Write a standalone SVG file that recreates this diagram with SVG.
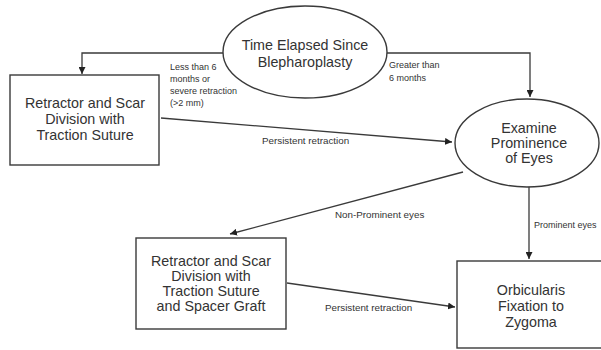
<svg xmlns="http://www.w3.org/2000/svg" width="601" height="350" viewBox="0 0 601 350">
<style>
.shape{fill:#fff;stroke:#3a3a3a;stroke-width:1.4}
.conn{fill:none;stroke:#3a3a3a;stroke-width:1.3}
.t{font-family:"Liberation Sans",Arial,sans-serif;font-size:14.3px;fill:#333;text-anchor:middle}
.s{font-family:"Liberation Sans",Arial,sans-serif;font-size:9px;fill:#333}
.m{font-family:"Liberation Sans",Arial,sans-serif;font-size:9.8px;fill:#333}
</style>
<defs>
<marker id="ah" viewBox="0 0 10 10" refX="10" refY="5" markerWidth="7" markerHeight="7" markerUnits="userSpaceOnUse" orient="auto">
<path d="M0,0 L10,5 L0,10 z" fill="#222"/>
</marker>
</defs>
<rect width="601" height="350" fill="#fff"/>
<g id="connectors">
<path class="conn" d="M223,53 H82 V74" marker-end="url(#ah)"/>
<path class="conn" d="M387,53 H530 V97" marker-end="url(#ah)"/>
<path class="conn" d="M161,118 L452,142" marker-end="url(#ah)"/>
<path class="conn" d="M463,172 L230,234" marker-end="url(#ah)"/>
<path class="conn" d="M529,187 V259" marker-end="url(#ah)"/>
<path class="conn" d="M287,283 L455,307" marker-end="url(#ah)"/>
<text class="s" x="170" y="70">Less than 6</text>
<text class="s" x="170" y="82">months or</text>
<text class="s" x="170" y="94">severe retraction</text>
<text class="s" x="170" y="106">(&gt;2 mm)</text>
<text class="s" x="389" y="68">Greater than</text>
<text class="s" x="389" y="81">6 months</text>
<text class="m" x="262" y="144">Persistent retraction</text>
<text class="m" x="335" y="218">Non-Prominent eyes</text>
<text class="s" x="534" y="228">Prominent eyes</text>
<text class="m" x="325" y="311">Persistent retraction</text>
</g>
<g id="time">
<ellipse class="shape" cx="305" cy="52" rx="82" ry="46"/>
<text class="t" x="305" y="50">Time Elapsed Since</text>
<text class="t" x="305" y="67">Blepharoplasty</text>
</g>
<g id="box1">
<rect class="shape" x="10" y="75" width="149" height="90"/>
<text class="t" x="85" y="108">Retractor and Scar</text>
<text class="t" x="85" y="124">Division with</text>
<text class="t" x="85" y="140">Traction Suture</text>
</g>
<g id="examine">
<ellipse class="shape" cx="527" cy="143" rx="72" ry="44"/>
<text class="t" x="529" y="133">Examine</text>
<text class="t" x="529" y="148">Prominence</text>
<text class="t" x="529" y="163">of Eyes</text>
</g>
<g id="box2">
<rect class="shape" x="136" y="238" width="150" height="91"/>
<text class="t" x="211" y="266">Retractor and Scar</text>
<text class="t" x="211" y="281">Division with</text>
<text class="t" x="211" y="296">Traction Suture</text>
<text class="t" x="211" y="311">and Spacer Graft</text>
</g>
<g id="box3">
<rect class="shape" x="457" y="261" width="152" height="87"/>
<text class="t" x="531" y="295">Orbicularis</text>
<text class="t" x="531" y="311">Fixation to</text>
<text class="t" x="531" y="327">Zygoma</text>
</g>
</svg>
